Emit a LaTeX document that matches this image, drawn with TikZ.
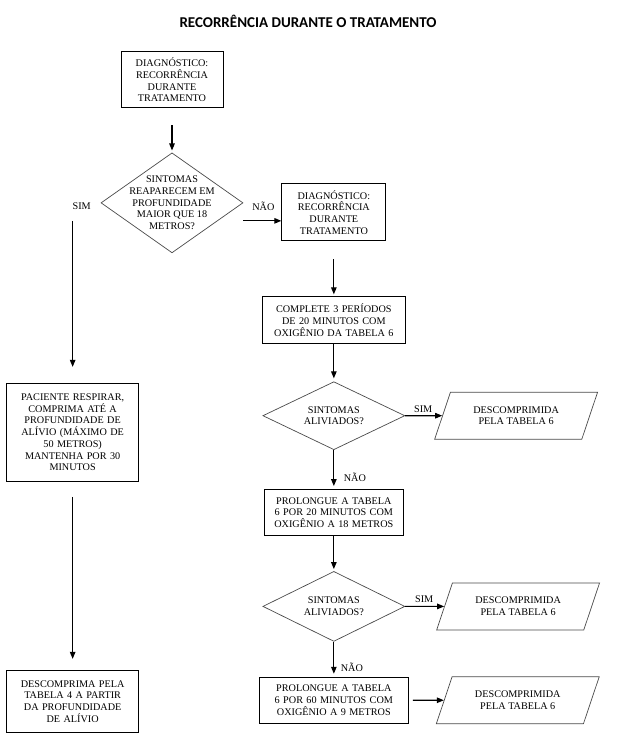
\documentclass[tikz,border=0pt]{standalone}
\usepackage{fontspec}
\setmainfont{Liberation Serif}
\newfontfamily\titlefont{Carlito}
\usepackage{tikz}
\usetikzlibrary{arrows.meta,positioning,shapes.geometric}
\definecolor{Ink}{HTML}{000000}
\definecolor{Rule}{HTML}{4A4A4A}

\begin{document}
\begin{tikzpicture}[
  node distance=36pt and 36pt,
  every node/.style={font=\fontsize{10.2}{11.7}\selectfont},
  box/.style={draw=Ink,line width=1pt,fill=white,align=center,inner xsep=0pt,inner ysep=0pt},
  decision/.style={diamond,draw=Rule,line width=0.7pt,align=center,inner sep=0pt,minimum width=142pt},
  io/.style={trapezium,trapezium left angle=61,trapezium right angle=119,trapezium stretches=true,
    draw=Rule,line width=0.7pt,align=center,minimum width=163pt,minimum height=47pt,inner sep=0pt},
  arrow/.style={-{Triangle[length=7pt,width=5.5pt]},line width=1.1pt,color=Ink},
  lbl/.style={inner sep=1pt}
]
  \useasboundingbox (0,0) rectangle (616pt,-749pt);
  \node[font=\titlefont\bfseries\fontsize{15}{18}\selectfont] (title) at (308pt,-21pt) {RECORRÊNCIA DURANTE O TRATAMENTO};

  % main column
  \node[box,text width=102pt,minimum height=56pt] (diag) at (172pt,-80pt) {DIAGNÓSTICO:\\RECORRÊNCIA\\DURANTE\\TRATAMENTO};
  \node[decision,minimum height=100pt,aspect=1.42,inner sep=-6pt,below=44pt of diag] (deep) {SINTOMAS\\REAPARECEM EM\\PROFUNDIDADE\\MAIOR QUE 18\\METROS?};
  \node[box,text width=104pt,minimum height=57pt,right=38pt of deep,yshift=-9.5pt] (diag2) {DIAGNÓSTICO:\\RECORRÊNCIA\\DURANTE\\TRATAMENTO};
  \node[box,text width=143pt,minimum height=47pt,below=55pt of diag2] (full) {COMPLETE 3 PERÍODOS\\DE 20 MINUTOS COM\\OXIGÊNIO DA TABELA 6};
  \node[decision,minimum height=68pt,aspect=2,below=37pt of full] (relief1) {SINTOMAS\\ALIVIADOS?};
  \node[io,right=37pt of relief1] (out1) {DESCOMPRIMIDA\\PELA TABELA 6};
  \node[box,text width=139pt,minimum height=46pt,below=39pt of relief1] (ext18) {PROLONGUE A TABELA\\6 POR 20 MINUTOS COM\\OXIGÊNIO A 18 METROS};
  \node[decision,minimum height=70pt,aspect=2,below=35pt of ext18] (relief2) {SINTOMAS\\ALIVIADOS?};
  \node[io,right=39pt of relief2] (out2) {DESCOMPRIMIDA\\PELA TABELA 6};
  \node[box,text width=149pt,minimum height=46pt,below=35pt of relief2] (ext9) {PROLONGUE A TABELA\\6 POR 60 MINUTOS COM\\OXIGÊNIO A 9 METROS};
  \node[io,right=35pt of ext9] (out3) {DESCOMPRIMIDA\\PELA TABELA 6};

  % left branch
  \node[box,text width=132pt,minimum height=98pt,below=180pt of deep.west,xshift=-28pt] (breathe) {PACIENTE RESPIRAR,\\COMPRIMA ATÉ A\\PROFUNDIDADE DE\\ALÍVIO (MÁXIMO DE\\50 METROS)\\MANTENHA POR 30\\MINUTOS};
  \node[box,text width=132pt,minimum height=62pt,below=188pt of breathe] (table4) {DESCOMPRIMA PELA\\TABELA 4 A PARTIR\\DA PROFUNDIDADE\\DE ALÍVIO};

  % labels
  \node[lbl] (yes0) at ([xshift=-19pt,yshift=-3pt]deep.west) {SIM};
  \node[lbl] (no0) at ([xshift=20pt,yshift=-3pt]deep.east) {NÃO};
  \node[lbl] (yes1) at ([xshift=18pt,yshift=7pt]relief1.east) {SIM};
  \node[lbl] (no1) at ([xshift=21pt,yshift=-27pt]relief1.south) {NÃO};
  \node[lbl] (yes2) at ([xshift=19pt,yshift=7pt]relief2.east) {SIM};
  \node[lbl] (no2) at ([xshift=18pt,yshift=-26pt]relief2.south) {NÃO};

  \draw[arrow,shorten <=17pt,shorten >=2pt] (diag) -- (deep);
  \draw[arrow] ([yshift=-18pt]deep.east) -- ([yshift=-18pt]deep.east -| diag2.west);
  \draw[arrow,shorten <=18pt,shorten >=2pt] (diag2) -- (full);
  \draw[arrow,shorten >=3pt] (full) -- (relief1);
  \draw[arrow] (relief1) -- (out1);
  \draw[arrow,shorten >=3pt] (relief1) -- (ext18);
  \draw[arrow,shorten >=2pt] (ext18) -- (relief2);
  \draw[arrow] (relief2) -- (out2);
  \draw[arrow,shorten >=3pt] (relief2) -- (ext9);
  \draw[arrow,shorten <=4pt] (ext9) -- (out3);
  \draw[arrow,shorten <=18pt,shorten >=16pt] (deep.west -| breathe.north) -- (breathe.north);
  \draw[arrow,shorten <=15pt,shorten >=11pt] (breathe) -- (table4);
\end{tikzpicture}
\end{document}
